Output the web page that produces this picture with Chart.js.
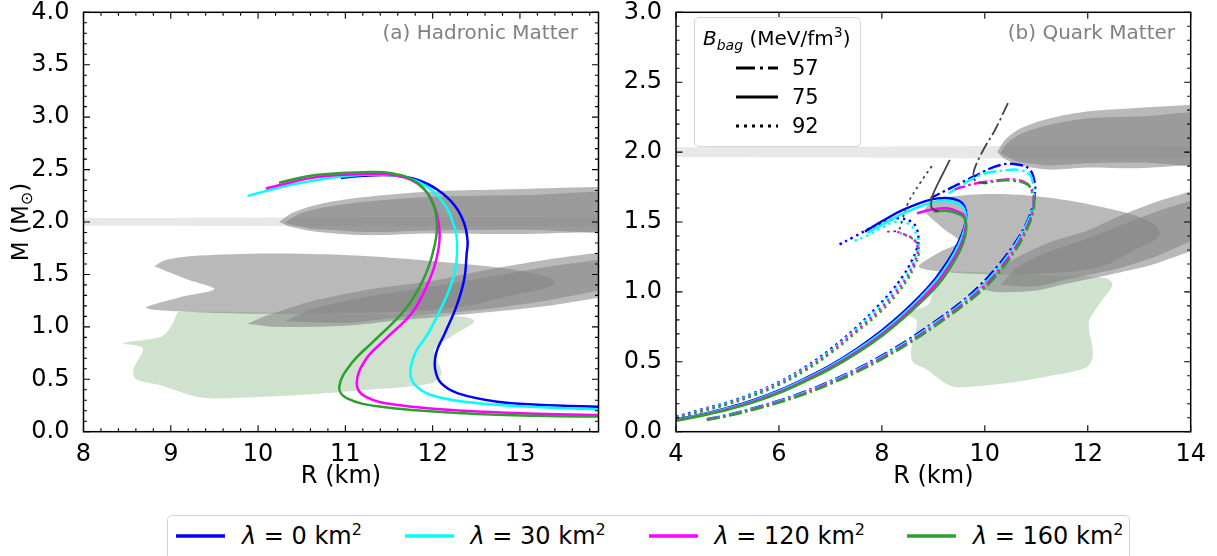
<!DOCTYPE html>
<html>
<head>
<meta charset="utf-8">
<script src="https://cdn.jsdelivr.net/npm/chart.js@4.4.0/dist/chart.umd.min.js"></script>
<style>
  body { margin: 0; background: #fff; width: 1217px; height: 556px; overflow: hidden; position: relative; font-family: "DejaVu Sans", sans-serif; }
  .panel { position: absolute; top: 0; height: 500px; }
  #bagLegend { position: absolute; left: 694px; top: 17px; width: 165px; height: 128px; border: 1px solid #d4d4d4; border-radius: 5px; background: rgba(255,255,255,0.85); font-size: 20px; }
  #bagLegend .title { position: absolute; left: 8px; top: 6px; white-space: nowrap; }
  #bagLegend .item { position: absolute; left: 41px; height: 24px; font-size: 21px; line-height: 24px; }
  #bagLegend .item span { position: absolute; left: 56px; top: 0; }
  #lamLegend { position: absolute; left: 167px; top: 515px; width: 961px; height: 50px; border: 1px solid #d4d4d4; border-radius: 5px; font-size: 24px; }
  #lamLegend .item { position: absolute; top: 4px; white-space: nowrap; }
  #lamLegend .item span { position: absolute; left: 66px; top: 0; }
  svg { position: absolute; overflow: visible; }
</style>
</head>
<body>
<div class="panel" style="left:0;width:610px"><canvas id="hadronic"></canvas></div>
<div class="panel" style="left:610px;width:607px"><canvas id="quark"></canvas></div>
<div id="bagLegend"></div>
<div id="lamLegend"></div>
<script>
// panel (a): hadronic matter, M-R curves as [R km, M Msun]
const hadLam0 = [[10.95,2.42],[11.2,2.44],[11.53,2.445],[11.83,2.40],[12.06,2.305],[12.25,2.16],[12.36,1.99],[12.4,1.82],[12.39,1.70],[12.36,1.447],[12.27,1.19],[12.14,0.94],[12.04,0.75],[12.03,0.59],[12.10,0.46],[12.29,0.366],[12.74,0.286],[13.2,0.258],[14.0,0.236]];
const hadLam30 = [[9.88,2.248],[10.2,2.32],[10.47,2.37],[11.04,2.44],[11.53,2.448],[11.83,2.385],[12.10,2.21],[12.25,1.955],[12.28,1.76],[12.25,1.51],[12.14,1.256],[11.95,0.94],[11.80,0.75],[11.745,0.557],[11.80,0.445],[11.98,0.35],[12.36,0.286],[13.12,0.238],[14.0,0.21]];
const hadLam120 = [[10.09,2.32],[10.66,2.426],[11.23,2.458],[11.60,2.44],[11.87,2.337],[12.02,2.146],[12.08,1.89],[12.04,1.638],[11.93,1.383],[11.76,1.13],[11.45,0.875],[11.23,0.684],[11.13,0.46],[11.23,0.334],[11.60,0.255],[12.36,0.20],[13.2,0.172],[14.0,0.158]];
const hadLam160 = [[10.24,2.375],[10.66,2.448],[11.19,2.474],[11.53,2.464],[11.83,2.37],[12.00,2.18],[12.05,1.955],[12.00,1.70],[11.89,1.447],[11.68,1.16],[11.34,0.875],[11.07,0.652],[10.93,0.43],[11.02,0.318],[11.41,0.238],[12.36,0.175],[13.2,0.152],[14.0,0.143]];

// panel (b): quark matter, one curve per bag constant and lambda
const q57Lam0 = [[4.6,0.09],[5.0,0.12],[5.5,0.168],[6.0,0.222],[6.5,0.286],[7.0,0.362],[7.5,0.447],[8.0,0.545],[8.5,0.655],[9.0,0.78],[9.5,0.915],[9.9,1.045],[10.25,1.185],[10.55,1.33],[10.78,1.47],[10.92,1.6],[10.97,1.69],[10.97,1.777],[10.88,1.872],[10.68,1.908],[10.3,1.908],[9.78,1.824],[9.39,1.753],[8.95,1.672]];
const q57Lam30 = [[4.6,0.088],[5.0,0.118],[5.5,0.165],[6.0,0.218],[6.5,0.281],[7.0,0.356],[7.5,0.44],[8.0,0.537],[8.5,0.646],[9.0,0.77],[9.5,0.904],[9.92,1.035],[10.27,1.175],[10.56,1.32],[10.78,1.46],[10.92,1.59],[10.96,1.69],[10.94,1.765],[10.88,1.836],[10.68,1.871],[10.42,1.871],[9.91,1.836],[9.3,1.705]];
const q57Lam120 = [[4.6,0.086],[5.0,0.115],[5.5,0.161],[6.0,0.213],[6.5,0.275],[7.0,0.349],[7.5,0.432],[8.0,0.528],[8.5,0.636],[9.0,0.758],[9.5,0.892],[9.94,1.025],[10.29,1.165],[10.58,1.31],[10.8,1.45],[10.93,1.58],[10.95,1.66],[10.94,1.705],[10.81,1.777],[10.55,1.805],[10.3,1.80],[9.84,1.777],[9.42,1.734]];
const q57Lam160 = [[4.6,0.084],[5.0,0.112],[5.5,0.157],[6.0,0.208],[6.5,0.269],[7.0,0.342],[7.5,0.424],[8.0,0.519],[8.5,0.626],[9.0,0.747],[9.5,0.88],[9.96,1.015],[10.31,1.155],[10.6,1.3],[10.81,1.44],[10.94,1.57],[10.96,1.65],[10.94,1.69],[10.84,1.765],[10.55,1.795],[10.3,1.795],[9.97,1.777]];
const q75Lam0 = [[4.0,0.085],[4.5,0.125],[5.0,0.17],[5.5,0.225],[6.0,0.295],[6.5,0.38],[7.0,0.475],[7.5,0.59],[8.0,0.725],[8.4,0.85],[8.75,0.975],[9.05,1.1],[9.3,1.23],[9.48,1.35],[9.6,1.46],[9.64,1.55],[9.6,1.615],[9.5,1.652],[9.26,1.672],[8.95,1.66],[8.42,1.588],[8.0,1.505],[7.67,1.431]];
const q75Lam30 = [[4.0,0.083],[4.5,0.122],[5.0,0.166],[5.5,0.221],[6.0,0.29],[6.5,0.374],[7.0,0.468],[7.5,0.58],[8.0,0.712],[8.4,0.836],[8.75,0.96],[9.06,1.085],[9.31,1.215],[9.49,1.335],[9.6,1.44],[9.63,1.54],[9.59,1.6],[9.5,1.628],[9.26,1.652],[8.93,1.634],[8.42,1.562],[8.0,1.48],[7.72,1.42]];
const q75Lam120 = [[4.0,0.08],[4.5,0.118],[5.0,0.161],[5.5,0.215],[6.0,0.283],[6.5,0.366],[7.0,0.458],[7.5,0.568],[8.0,0.698],[8.4,0.82],[8.76,0.945],[9.08,1.07],[9.33,1.2],[9.51,1.32],[9.61,1.42],[9.63,1.5],[9.59,1.55],[9.5,1.57],[9.26,1.598],[8.93,1.586],[8.68,1.562]];
const q75Lam160 = [[4.0,0.077],[4.5,0.114],[5.0,0.156],[5.5,0.209],[6.0,0.276],[6.5,0.358],[7.0,0.449],[7.5,0.557],[8.0,0.685],[8.4,0.805],[8.77,0.93],[9.1,1.055],[9.35,1.185],[9.53,1.305],[9.62,1.4],[9.64,1.48],[9.6,1.53],[9.52,1.553],[9.26,1.58],[9.0,1.574]];
const q92Lam0 = [[4.0,0.105],[4.5,0.16],[5.0,0.21],[5.5,0.275],[6.0,0.355],[6.5,0.46],[7.0,0.59],[7.5,0.745],[7.9,0.89],[8.2,1.01],[8.42,1.12],[8.58,1.22],[8.67,1.30],[8.71,1.36],[8.68,1.45],[8.58,1.50],[8.35,1.526],[8.16,1.514],[7.77,1.455],[7.44,1.39],[7.15,1.335]];
const q92Lam30 = [[4.0,0.1],[4.5,0.155],[5.0,0.205],[5.5,0.27],[6.0,0.35],[6.5,0.452],[7.0,0.58],[7.5,0.735],[7.9,0.875],[8.22,1.0],[8.45,1.11],[8.6,1.21],[8.69,1.29],[8.72,1.33],[8.68,1.40],[8.55,1.479],[8.29,1.502],[8.0,1.46],[7.7,1.40],[7.44,1.36]];
const q92Lam120 = [[4.0,0.097],[4.5,0.15],[5.0,0.2],[5.5,0.263],[6.0,0.342],[6.5,0.443],[7.0,0.57],[7.5,0.72],[7.92,0.86],[8.25,0.99],[8.48,1.1],[8.62,1.2],[8.69,1.27],[8.7,1.31],[8.63,1.371],[8.48,1.405],[8.29,1.431]];
const q92Lam160 = [[4.0,0.094],[4.5,0.146],[5.0,0.195],[5.5,0.257],[6.0,0.335],[6.5,0.435],[7.0,0.56],[7.5,0.71],[7.95,0.85],[8.28,0.98],[8.5,1.09],[8.64,1.19],[8.71,1.26],[8.72,1.3],[8.66,1.36],[8.52,1.395],[8.36,1.42]];
const q57Gray = [[10.45,2.35],[10.2,2.16],[9.97,2.015],[9.8,1.88],[9.78,1.824],[9.84,1.79],[10.04,1.777]];
const q75Gray = [[9.32,1.944],[9.15,1.82],[9.03,1.729],[8.97,1.67],[8.97,1.6],[9.1,1.574]];
const q92Gray = [[8.97,1.90],[8.74,1.777],[8.5,1.63],[8.4,1.52],[8.33,1.445],[8.2,1.432],[8.09,1.431]];

// observational constraints (contours), [R km, M Msun]
const psrBand = [1.965, 2.035];
const j0740Outer = [[10.24,2.0],[10.4,2.09],[10.7,2.17],[11.2,2.235],[11.98,2.29],[12.74,2.31],[13.9,2.335],[14.6,2.34],[14.6,1.9],[13.9,1.905],[12.97,1.885],[11.98,1.89],[11.23,1.875],[10.6,1.915],[10.35,1.96]];
const j0740Inner = [[10.3,1.99],[10.45,2.07],[10.7,2.13],[11.2,2.19],[11.98,2.24],[13.0,2.255],[14.6,2.26],[14.6,1.93],[13.0,1.925],[11.98,1.92],[11.23,1.905],[10.6,1.935]];
const j0030Riley = [[8.81,1.58],[8.95,1.64],[9.33,1.68],[10.1,1.70],[10.85,1.69],[11.6,1.655],[12.36,1.60],[12.9,1.55],[13.3,1.48],[13.4,1.42],[13.3,1.37],[12.9,1.3],[12.4,1.2],[11.8,1.15],[11.0,1.13],[10.1,1.125],[9.3,1.14],[8.72,1.18],[9.1,1.28],[9.5,1.36],[9.2,1.45],[8.95,1.53]];
const j0030MillerOuter = [[9.88,1.03],[10.2,1.0],[11.0,1.01],[11.6,1.06],[12.5,1.13],[13.3,1.2],[14.0,1.29],[14.6,1.35],[14.6,1.8],[14.0,1.72],[13.3,1.64],[12.6,1.54],[12.0,1.44],[11.3,1.36],[10.6,1.24],[10.1,1.11]];
const j0030MillerInner = [[10.3,1.05],[11.0,1.04],[11.6,1.09],[12.5,1.16],[13.3,1.25],[14.0,1.36],[14.6,1.43],[14.6,1.7],[14.0,1.65],[13.3,1.57],[12.6,1.47],[11.9,1.37],[11.2,1.28],[10.6,1.17]];
const greenRegion = [[9.08,1.145],[9.0,1.0],[8.89,0.906],[8.45,0.843],[8.68,0.795],[8.57,0.588],[8.6,0.5],[8.87,0.445],[9.29,0.334],[9.55,0.318],[10.47,0.35],[11.23,0.397],[11.98,0.461],[12.1,0.556],[12.02,0.779],[12.21,0.906],[12.48,1.05],[12.36,1.097],[11.6,1.113],[10.47,1.13],[9.71,1.145]];

const lambdaLabels = ['0', '30', '120', '160'];
const lambdaColors = ['#0000ff', '#00ffff', '#ff00ff', '#2ca02c'];
const bagLabels = ['57', '75', '92'];

const FONT = '"DejaVu Sans", sans-serif';
const DASHDOT = [13, 3.5, 2.5, 3.5];
const DOTTED = [2.5, 3.8];

const toXY = pts => pts.map(p => ({ x: p[0], y: p[1] }));

function curve(pts, color, dash, width, order) {
  return { data: toXY(pts), borderColor: color, borderWidth: width, borderDash: dash, borderCapStyle: 'butt',
    pointRadius: 0, tension: 0.4, fill: false, order: order };
}
function region(pts, color, order) {
  return { data: toXY(pts), borderWidth: 0, borderColor: 'rgba(0,0,0,0)', backgroundColor: color,
    pointRadius: 0, tension: 0.3, fill: 'shape', order: order };
}
function constraintSets(xmin, xmax) {
  const gray = 'rgba(132,132,132,0.57)';
  return [
    region(j0740Outer, gray, 10), region(j0740Inner, gray, 10),
    region(j0030Riley, gray, 10), region(j0030MillerOuter, gray, 10), region(j0030MillerInner, gray, 10),
    region(greenRegion, 'rgba(60,140,60,0.25)', 11),
    region([[xmin - 1, psrBand[0]], [xmax + 1, psrBand[0]], [xmax + 1, psrBand[1]], [xmin - 1, psrBand[1]]], 'rgba(190,190,190,0.35)', 12)
  ];
}

// inward ticks on all four sides, frame, panel label, y title
const frame = {
  id: 'frame',
  afterDatasetsDraw(chart, args, o) {
    const { ctx, chartArea: a, scales: { x, y } } = chart;
    const vals = (s, step) => { const r = []; for (let i = Math.ceil(s.min / step - 1e-9); i <= Math.floor(s.max / step + 1e-9); i++) r.push(i * step); return r; };
    const isMajor = (v, m) => Math.abs(v / m - Math.round(v / m)) < 1e-6;
    ctx.save();
    ctx.strokeStyle = '#000';
    ctx.lineWidth = 1.1;
    ctx.beginPath();
    vals(x, o.xMinor).forEach(v => {
      const p = x.getPixelForValue(v), l = isMajor(v, o.xMajor) ? 6.5 : 3.5;
      ctx.moveTo(p, a.bottom); ctx.lineTo(p, a.bottom - l);
      ctx.moveTo(p, a.top); ctx.lineTo(p, a.top + l);
    });
    vals(y, o.yMinor).forEach(v => {
      const p = y.getPixelForValue(v), l = isMajor(v, o.yMajor) ? 6.5 : 3.5;
      ctx.moveTo(a.left, p); ctx.lineTo(a.left + l, p);
      ctx.moveTo(a.right, p); ctx.lineTo(a.right - l, p);
    });
    ctx.stroke();
    ctx.lineWidth = 1.5;
    ctx.strokeRect(a.left, a.top, a.right - a.left, a.bottom - a.top);

    ctx.fillStyle = '#808080';
    ctx.font = '20px ' + FONT;
    ctx.textAlign = 'right';
    ctx.textBaseline = 'middle';
    ctx.fillText(o.label, a.right - o.labelInset, a.top + 21);

    if (o.yTitle) {
      ctx.fillStyle = '#000';
      ctx.translate(19, (a.top + a.bottom) / 2);
      ctx.rotate(-Math.PI / 2);
      ctx.textAlign = 'left';
      ctx.textBaseline = 'alphabetic';
      const big = '23px ' + FONT, small = '16px ' + FONT;
      ctx.font = big; const w1 = ctx.measureText('M (M').width, w3 = ctx.measureText(')').width;
      ctx.font = small; const w2 = ctx.measureText('⊙').width;
      let sx = -(w1 + w2 + w3) / 2;
      ctx.font = big; ctx.fillText('M (M', sx, 9); sx += w1;
      ctx.font = small; ctx.fillText('⊙', sx, 13); sx += w2;
      ctx.font = big; ctx.fillText(')', sx, 9);
    }
    ctx.restore();
  }
};

function panel(id, p) {
  return new Chart(document.getElementById(id), {
    type: 'line',
    data: { datasets: p.datasets },
    options: {
      responsive: true, maintainAspectRatio: false, animation: false,
      layout: { padding: { top: 12.3, right: p.padRight, left: 0, bottom: 0 } },
      elements: { line: { capBezierPoints: false }, point: { radius: 0 } },
      plugins: {
        legend: { display: false }, tooltip: { enabled: false },
        frame: { xMajor: p.xMajor, xMinor: p.xMinor, yMajor: 0.5, yMinor: 0.1, label: p.label, labelInset: p.labelInset, yTitle: p.yTitle }
      },
      scales: {
        x: {
          type: 'linear', min: p.xmin, max: p.xmax,
          grid: { display: false }, border: { display: false },
          ticks: { stepSize: p.xMajor, includeBounds: false, maxRotation: 0, autoSkip: false, color: '#000', padding: 1, font: { family: FONT, size: 24 } },
          title: { display: true, text: 'R (km)', color: '#000', font: { family: FONT, size: 24 }, padding: { top: 0, bottom: 9 } },
          afterFit: s => { s.height = 68.3; }
        },
        y: {
          min: 0, max: p.ymax,
          grid: { display: false }, border: { display: false },
          ticks: { stepSize: 0.5, color: '#000', padding: p.yPad, font: { family: FONT, size: 24, lineHeight: 0.5 }, callback: v => v.toFixed(1) },
          afterFit: s => { s.width = p.yWidth; }
        }
      }
    },
    plugins: [frame]
  });
}

const hadCurves = [hadLam0, hadLam30, hadLam120, hadLam160];
panel('hadronic', {
  xmin: 8, xmax: 13.9, ymax: 4, xMajor: 1, xMinor: 0.2, yWidth: 83.5, yPad: 6, padRight: 11.5,
  label: '(a) Hadronic Matter', labelInset: 20.5, yTitle: true,
  datasets: hadCurves.map((c, i) => curve(c, lambdaColors[i], [], 2.5, 3 - i)).concat(constraintSets(8, 13.9))
});

const quarkCurves = [
  [q57Lam0, q57Lam30, q57Lam120, q57Lam160],
  [q75Lam0, q75Lam30, q75Lam120, q75Lam160],
  [q92Lam0, q92Lam30, q92Lam120, q92Lam160]
];
const bagDash = [DASHDOT, [], DOTTED];
const quarkSets = [];
quarkCurves.forEach((group, b) => group.forEach((c, i) => quarkSets.push(curve(c, lambdaColors[i], bagDash[b], 2.4, 3 - i))));
[q57Gray, q75Gray, q92Gray].forEach((c, b) => quarkSets.push(curve(c, '#444444', bagDash[b], 1.8, -1)));
panel('quark', {
  xmin: 4, xmax: 14, ymax: 3, xMajor: 2, xMinor: 2, yWidth: 66, yPad: 6, padRight: 26.3,
  label: '(b) Quark Matter', labelInset: 15.7, yTitle: false,
  datasets: quarkSets.concat(constraintSets(4, 14))
});

// legends
const svgLine = (w, color, dash, lw) =>
  '<svg width="' + w + '" height="8" style="left:0;top:8px"><line x1="0" y1="4" x2="' + w + '" y2="4" stroke="' + color +
  '" stroke-width="' + lw + '" stroke-dasharray="' + dash.join(' ') + '"/></svg>';

const bag = document.getElementById('bagLegend');
let html = '<div class="title"><i>B</i><sub style="font-size:14px"><i>bag</i></sub> (MeV/fm<sup style="font-size:14px">3</sup>)</div>';
const legendDash = [[19, 5, 3, 5], [], [3, 5]];
bagLabels.forEach((b, k) => {
  html += '<div class="item" style="top:' + (38 + 29 * k) + 'px">' + svgLine(42, '#000', legendDash[k], 3) + '<span>' + b + '</span></div>';
});
bag.innerHTML = html;

const lam = document.getElementById('lamLegend');
const lamLeft = [8, 236.5, 480.5, 739];
html = '';
lambdaLabels.forEach((l, k) => {
  html += '<div class="item" style="left:' + lamLeft[k] + 'px">' +
    '<svg width="49" height="8" style="left:0;top:12px"><line x1="0" y1="4" x2="49" y2="4" stroke="' + lambdaColors[k] + '" stroke-width="3.5"/></svg>' +
    '<span><i>λ</i> = ' + l + ' km<sup style="font-size:16px">2</sup></span></div>';
});
lam.innerHTML = html;
</script>
</body>
</html>
